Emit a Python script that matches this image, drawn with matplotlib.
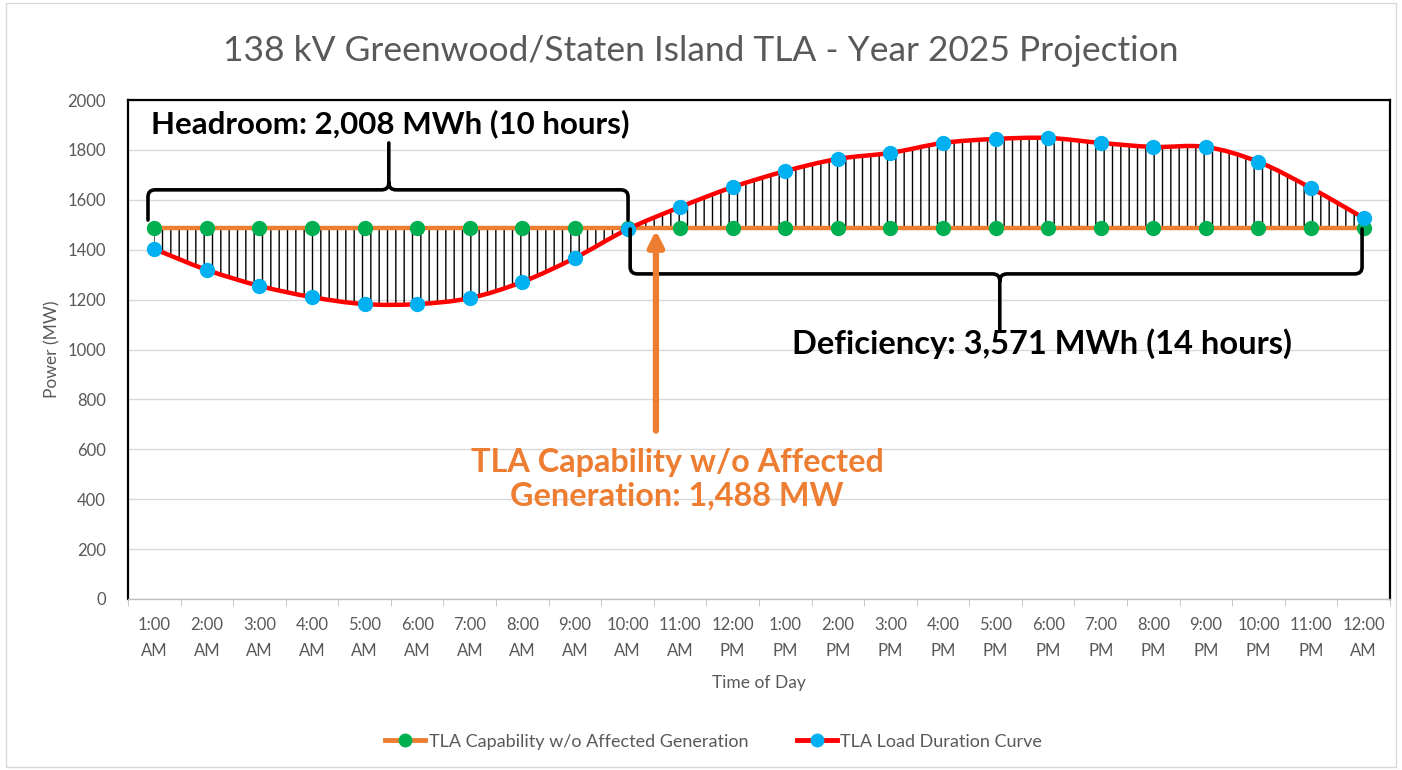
import numpy as np
import matplotlib.pyplot as plt
from matplotlib.path import Path
from matplotlib.patches import PathPatch, Rectangle
from matplotlib.lines import Line2D

plt.rcParams['font.family'] = ['Lato', 'DejaVu Sans']

# hourly data
hours = ['1:00\nAM', '2:00\nAM', '3:00\nAM', '4:00\nAM', '5:00\nAM', '6:00\nAM',
         '7:00\nAM', '8:00\nAM', '9:00\nAM', '10:00\nAM', '11:00\nAM', '12:00\nPM',
         '1:00\nPM', '2:00\nPM', '3:00\nPM', '4:00\nPM', '5:00\nPM', '6:00\nPM',
         '7:00\nPM', '8:00\nPM', '9:00\nPM', '10:00\nPM', '11:00\nPM', '12:00\nAM']
capability = [1488] * 24
load = [1403, 1319, 1255, 1210, 1182, 1182, 1206, 1271, 1367, 1482, 1571, 1651,
        1715, 1764, 1788, 1828, 1844, 1848, 1828, 1812, 1812, 1752, 1647, 1527]

ORANGE = '#ED7D31'
GREEN = '#00B050'
BLUE = '#00B0F0'
RED = '#FF0000'
GREY = '#595959'


def smooth_path(x, y):
    # catmull-rom style smoothing, like excel's smoothed line
    pts = np.column_stack([x, y]).astype(float)
    verts = [pts[0]]
    codes = [Path.MOVETO]
    n = len(pts)
    for i in range(n - 1):
        p0 = pts[max(i - 1, 0)]
        p1 = pts[i]
        p2 = pts[i + 1]
        p3 = pts[min(i + 2, n - 1)]
        c1 = p1 + (p2 - p0) / 6
        c2 = p2 - (p3 - p1) / 6
        verts += [c1, c2, p2]
        codes += [Path.CURVE4] * 3
    return verts, codes


def brace(ax, x0, x1, xm, y_line, y_end, y_tip, rx=0.14, ry=28):
    s_end = 1 if y_end > y_line else -1
    s_tip = 1 if y_tip > y_line else -1
    verts = [(x0, y_end), (x0, y_line + s_end * ry), (x0, y_line), (x0 + rx, y_line),
             (xm - rx, y_line), (xm, y_line), (xm, y_line + s_tip * ry), (xm, y_tip),
             (xm, y_line + s_tip * ry), (xm, y_line), (xm + rx, y_line),
             (x1 - rx, y_line), (x1, y_line), (x1, y_line + s_end * ry), (x1, y_end)]
    codes = [Path.MOVETO, Path.LINETO, Path.CURVE3, Path.CURVE3,
             Path.LINETO, Path.CURVE3, Path.CURVE3, Path.LINETO,
             Path.MOVETO, Path.CURVE3, Path.CURVE3,
             Path.LINETO, Path.CURVE3, Path.CURVE3, Path.LINETO]
    ax.add_patch(PathPatch(Path(verts, codes), fill=False, lw=2.6, ec='black',
                           capstyle='round', joinstyle='round', zorder=6))


x = np.arange(len(hours))

fig = plt.figure(figsize=(14.02, 7.70), dpi=100)
fig.patches.append(Rectangle((0.004, 0.004), 0.992, 0.992, transform=fig.transFigure,
                             fill=False, ec='#D9D9D9', lw=1))
ax = fig.add_axes([0.0913, 0.2221, 0.9001, 0.648])

# hatched area between the load curve and capability
v, c = smooth_path(x, load)
v = v + [(x[-1], capability[-1]), (x[0], capability[0]), (0, 0)]
c = c + [Path.LINETO, Path.LINETO, Path.CLOSEPOLY]
ax.add_patch(PathPatch(Path(v, c), fc='none', ec='black', lw=0, hatch='||', zorder=2))

ax.plot(x, capability, color=ORANGE, lw=3.2, zorder=3)
ax.plot(x, capability, 'o', color=GREEN, ms=10, zorder=4)
v, c = smooth_path(x, load)
ax.add_patch(PathPatch(Path(v, c), fill=False, ec=RED, lw=3.2, zorder=4))
ax.plot(x, load, 'o', color=BLUE, ms=10, zorder=5)

ax.set_xlim(-0.5, 23.5)
ax.set_ylim(0, 2000)
ax.set_yticks(range(0, 2001, 200))
ax.set_xticks(x)
ax.set_xticklabels(hours, fontsize=12, color=GREY, linespacing=1.75)
ax.set_xticks(np.arange(-0.5, 24, 1), minor=True)
ax.tick_params(axis='x', which='major', length=0, pad=13)
ax.tick_params(axis='x', which='minor', length=5, color='#BFBFBF')
ax.tick_params(axis='y', length=0, labelsize=12, labelcolor=GREY, pad=16)
ax.grid(axis='y', color='#D9D9D9', lw=1)
ax.set_axisbelow(True)
for side in ['left', 'top', 'right']:
    ax.spines[side].set_color('black')
    ax.spines[side].set_linewidth(1.6)
ax.spines['bottom'].set_color('#BFBFBF')
ax.spines['bottom'].set_linewidth(1)

ax.set_xlabel('Time of Day', fontsize=12.5, color=GREY, labelpad=12)
ax.set_ylabel('Power (MW)', fontsize=12.5, color=GREY, labelpad=5)
fig.suptitle('138 kV Greenwood/Staten Island TLA - Year 2025 Projection',
             fontsize=25.5, color=GREY, y=0.955)

# annotations
brace(ax, -0.12, 9.01, 4.46, 1640, 1519, 1828)
ax.text(-0.07, 1905, 'Headroom: 2,008 MWh (10 hours)', fontsize=22.5, fontweight='bold',
        ha='left', va='center', zorder=7)
brace(ax, 9.05, 22.97, 16.08, 1303, 1483, 1078)
ax.text(16.88, 1025, 'Deficiency: 3,571 MWh (14 hours)', fontsize=23.5, fontweight='bold',
        ha='center', va='center', zorder=5)
ax.annotate('', xy=(9.54, 1478), xytext=(9.54, 675),
            arrowprops=dict(arrowstyle='-|>,head_length=0.9,head_width=0.45',
                        color=ORANGE, lw=4.5, shrinkA=0, shrinkB=0), zorder=6)
ax.text(9.94, 481, 'TLA Capability w/o Affected\nGeneration: 1,488 MW', fontsize=23.3,
        fontweight='bold', color=ORANGE, ha='center', va='center', linespacing=1.18, zorder=6)

handles = [Line2D([], [], color=ORANGE, lw=3.5, marker='o', ms=9, mfc=GREEN, mec=GREEN),
           Line2D([], [], color=RED, lw=3.5, marker='o', ms=9, mfc=BLUE, mec=BLUE)]
fig.legend(handles, ['TLA Capability w/o Affected Generation', 'TLA Load Duration Curve'],
           loc='center', bbox_to_anchor=(0.509, 0.037), ncol=2, frameon=False,
           fontsize=13, handlelength=2.2, columnspacing=2.7, handletextpad=0.2,
           labelcolor=GREY)

fig.savefig('out.png', dpi=100)
